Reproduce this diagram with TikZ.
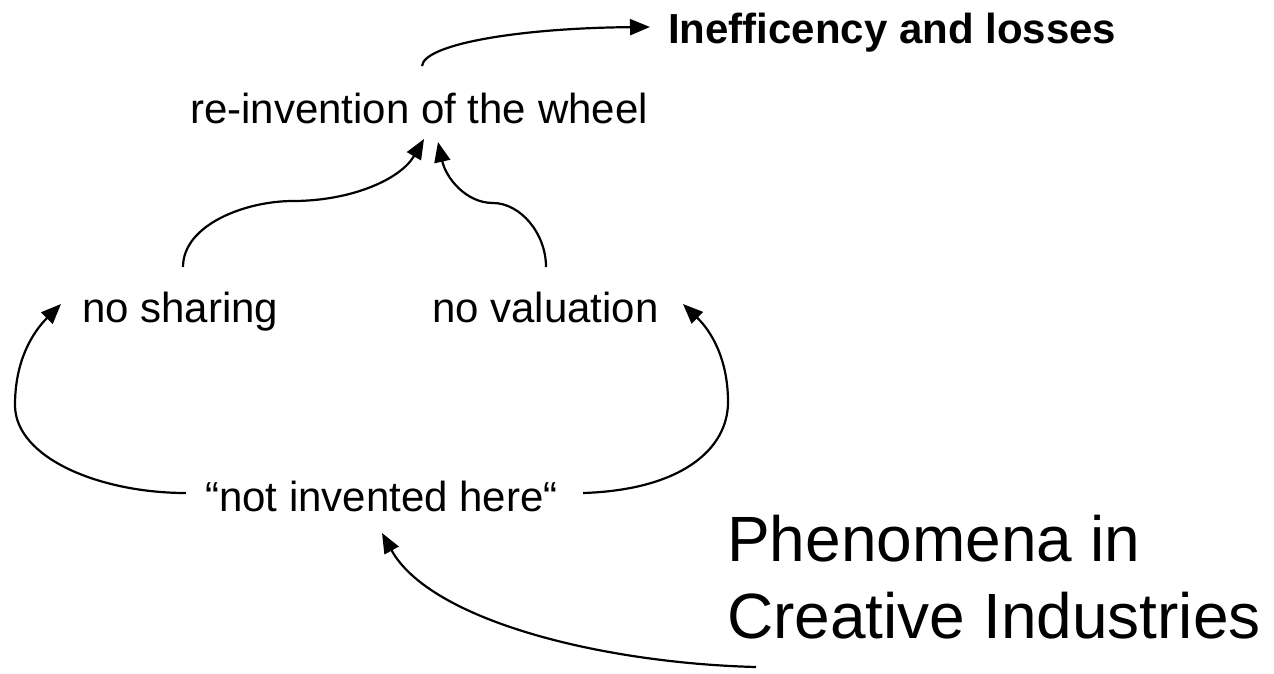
\documentclass[tikz,border=0pt]{standalone}
\usepackage{fontspec}
\setmainfont{Liberation Sans}
\usetikzlibrary{arrows.meta}
\tikzset{
  lbl/.style={anchor=base west, inner sep=0pt, font=\fontsize{42}{50}\selectfont},
  big/.style={anchor=base west, inner sep=0pt, align=left, font=\fontsize{64}{77}\selectfont},
  conn/.style={line width=2.2pt, -{Triangle[length=20pt,width=16pt]}}
}
\begin{document}
\begin{tikzpicture}[x=1pt,y=-1pt]
\useasboundingbox (0,0) rectangle (1274,673);
\node[lbl, font=\fontsize{42}{50}\selectfont\bfseries] (loss) at (668,43) {Inefficency and losses};
\node[lbl] (wheel) at (190,123) {re-invention of the wheel};
\node[lbl] (share) at (82,322) {no sharing};
\node[lbl] (val) at (432,322) {no valuation};
\node[lbl] (nih) at (205,511) {“not invented here“};
\node[big] (phen) at (727,638) {Phenomena in\\Creative Industries};

\coordinate (lossS) at (422,66);
\coordinate (lossE) at (650,27);
\coordinate (shareS) at (183,267);
\coordinate (shareE) at (424,139);
\coordinate (valS) at (546,267);
\coordinate (valE) at (438,142);
\coordinate (nihL) at (186,493);
\coordinate (shareT) at (61,304);
\coordinate (nihR) at (583,493);
\coordinate (valT) at (683,304);
\coordinate (phenS) at (756,667);
\coordinate (nihT) at (382,533);

\draw[conn] (lossS) .. controls (424,44) and (520,28) .. (lossE);
\draw[conn] (shareS) .. controls (183,225) and (245,201) .. (293,201)
            .. controls (350,201) and (400,180) .. (shareE);
\draw[conn] (valS) .. controls (546,233) and (520,203) .. (493,203)
            .. controls (466,203) and (446,178) .. (valE);
\draw[conn] (nihL) .. controls (100,493) and (15,458) .. (15,405)
            .. controls (15,360) and (33,332) .. (shareT);
\draw[conn] (nihR) .. controls (680,490) and (728,450) .. (728,402)
            .. controls (728,360) and (712,332) .. (valT);
\draw[conn] (phenS) .. controls (600,663) and (430,620) .. (nihT);
\end{tikzpicture}
\end{document}
